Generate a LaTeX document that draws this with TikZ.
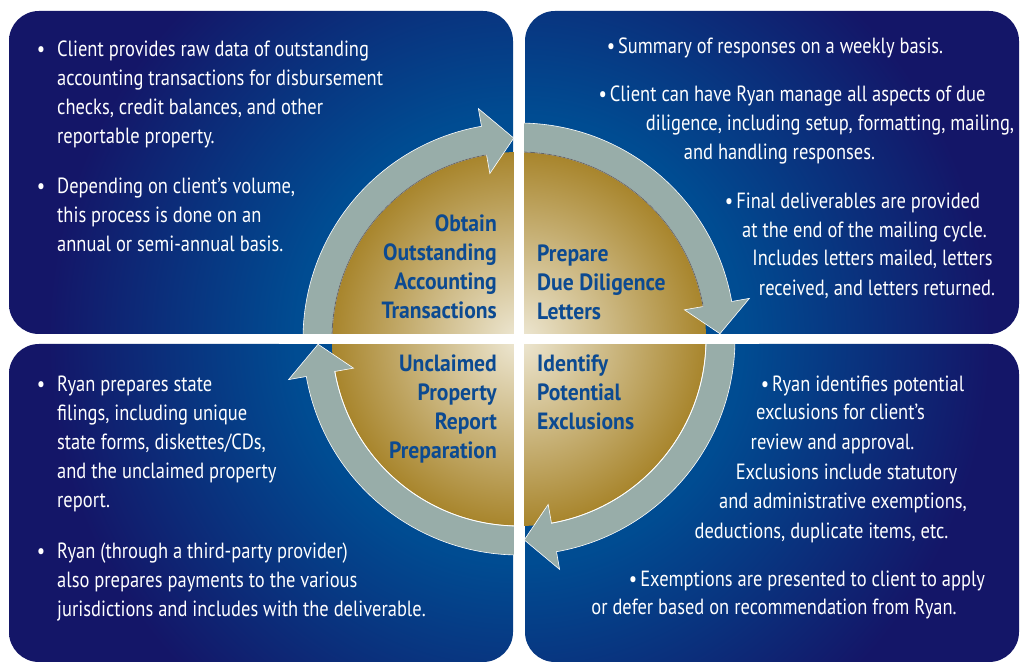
\documentclass[tikz,border=0pt]{standalone}
\usepackage{fontspec}
\setmainfont{PT Sans}[FakeStretch=0.84]
\newfontfamily\labelfont{PT Sans}[FakeStretch=0.92]
\definecolor{navy}{RGB}{20,22,104}
\definecolor{midblue}{RGB}{0,76,146}
\definecolor{goldin}{RGB}{238,232,212}
\definecolor{goldout}{RGB}{168,133,44}
\definecolor{ringgray}{RGB}{152,173,169}
\definecolor{labelblue}{RGB}{12,74,145}
\pgfdeclareradialshading{panelglow}{\pgfpoint{0bp}{0bp}}{color(0bp)=(midblue); color(9bp)=(midblue); color(19bp)=(navy); color(50bp)=(navy)}
\tikzset{
  body/.style={text=white, inner sep=0pt, font=\fontsize{22}{29}\selectfont},
  steplabel/.style={text=labelblue, inner sep=0pt, font=\labelfont\bfseries\fontsize{23.5}{29}\selectfont},
  ringarrow/.style={fill=ringgray, draw=white, line width=0.6pt},
}

\begin{document}
\begin{tikzpicture}[x=1pt,y=1pt]
        \fill[white] (0,0) rectangle (1021,663);
        \useasboundingbox (0,0) rectangle (1021,663);
        % the four panels, one glow for all
        \begin{scope}
            \clip[rounded corners=30pt] (9,329) rectangle (513,652) (525,329) rectangle (1019,652)
                (9,1) rectangle (513,319) (525,1) rectangle (1019,319);
            \shade[shading=panelglow] (519,324) circle (620);
        \end{scope}
        % gold disc and the ring of arrows
        \begin{scope}[shift={(519,324)}]
            \shade[inner color=goldin, outer color=goldout] (0,0) circle (187);
            \foreach \a in {180,90,0,-90} {
                \filldraw[ringarrow] (\a:216) arc (\a:\a-80:216) -- (\a-80:234) -- (\a-88.5:201)
                    -- (\a-80:168) -- (\a-80:187) arc (\a-80:\a:187) -- cycle;
            }
            \draw[black!60, line width=0.8pt] (180:187) arc (180:100:187);
            \draw[black!60, line width=0.8pt] (90:187) arc (90:10:187);
            \draw[white, line width=0.8pt] (0:187) arc (0:-80:187);
            \draw[white, line width=0.8pt] (-90:187) arc (-90:-170:187);
            \fill[white] (-5,-240) rectangle (5,240);
            \fill[white] (-240,-5) rectangle (240,5);
        \end{scope}
        % step names
        \foreach \t [count=\i] in {Obtain, Outstanding, Accounting, Transactions}
            \node[steplabel, anchor=base east] (obtain-\i) at (497,460-29*\i) {\t};
        \foreach \t [count=\i] in {Prepare, Due Diligence, Letters}
            \node[steplabel, anchor=base west] (prepare-\i) at (537,430-29*\i) {\t};
        \foreach \t [count=\i] in {Unclaimed, Property, Report, Preparation}
            \node[steplabel, anchor=base east] (unclaimed-\i) at (497,320-29*\i) {\t};
        \foreach \t [count=\i] in {Identify, Potential, Exclusions}
            \node[steplabel, anchor=base west] (identify-\i) at (537,320-29*\i) {\t};
        % top left
        \foreach \t [count=\i] in {{\llap{•\hspace{12pt}}Client provides raw data of outstanding},
                accounting transactions for disbursement, {checks, credit balances, and other},
                reportable property.}
            \node[body, anchor=base west] (raw-\i) at (57,635-29*\i) {\t};
        \foreach \t [count=\i] in {{\llap{•\hspace{12pt}}Depending on client’s volume,},
                this process is done on an, annual or semi-annual basis.}
            \node[body, anchor=base west] (volume-\i) at (57,498-29*\i) {\t};
        % top right
        \foreach \x/\y/\t [count=\i] in {775/609/{•\hspace{3pt}Summary of responses on a weekly basis.},
                792/561/{•\hspace{3pt}Client can have Ryan manage all aspects of due},
                830/532/{diligence, including setup, formatting, mailing,},
                779.5/503/{and handling responses.},
                852.5/454/{•\hspace{3pt}Final deliverables are provided},
                864.5/425/{at the end of the mailing cycle.},
                872.5/397/{Includes letters mailed, letters},
                877/367/{received, and letters returned.}}
            \node[body, anchor=base] (letters-\i) at (\x,\y) {\t};
        % bottom left
        \foreach \t [count=\i] in {{\llap{•\hspace{12pt}}Ryan prepares state},
                {filings, including unique}, {state forms, diskettes/CDs,},
                and the unclaimed property, report.}
            \node[body, anchor=base west] (filings-\i) at (57,300-29*\i) {\t};
        \foreach \t [count=\i] in {{\llap{•\hspace{12pt}}Ryan (through a third-party provider)},
                also prepares payments to the various,
                jurisdictions and includes with the deliverable.}
            \node[body, anchor=base west] (payments-\i) at (57,133-29*\i) {\t};
        % bottom right
        \foreach \x/\y/\t [count=\i] in {862.5/271/{•\hspace{3pt}Ryan identifies potential},
                840.5/243/{exclusions for client’s},
                832.5/213/{review and approval.},
                846.5/183/{Exclusions include statutory},
                843/154/{and administrative exemptions,},
                821.5/124/{deductions, duplicate items, etc.},
                807/76/{•\hspace{3pt}Exemptions are presented to client to apply},
                774/48/{or defer based on recommendation from Ryan.}}
            \node[body, anchor=base] (exclusions-\i) at (\x,\y) {\t};
    \end{tikzpicture}
\end{document}
